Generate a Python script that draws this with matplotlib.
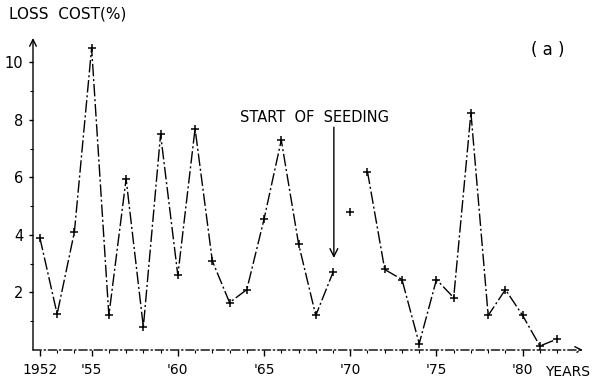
import matplotlib
matplotlib.use('Agg')
import matplotlib.pyplot as plt
import numpy as np

# loss cost (%) per year
years_a = [1952, 1953, 1954, 1955, 1956, 1957, 1958, 1959, 1960, 1961,
           1962, 1963, 1964, 1965, 1966, 1967, 1968, 1969]
loss_a = [3.9, 1.25, 4.1, 10.5, 1.2, 5.95, 0.8, 7.5, 2.6, 7.7,
          3.1, 1.65, 2.1, 4.55, 7.3, 3.7, 1.2, 2.7]
year_1970 = [1970]
loss_1970 = [4.8]
years_b = [1971, 1972, 1973, 1974, 1975, 1976, 1977, 1978, 1979, 1980, 1981, 1982]
loss_b = [6.2, 2.8, 2.45, 0.22, 2.45, 1.82, 8.25, 1.2, 2.1, 1.2, 0.14, 0.38]

xticks = [1952, 1955, 1960, 1965, 1970, 1975, 1980]
xticklabels = ['1952', "'55", "'60", "'65", "'70", "'75", "'80"]
yticks = [2, 4, 6, 8, 10]

plt.rcParams['font.family'] = 'DejaVu Sans'
plt.rcParams['font.size'] = 10

fig = plt.figure(figsize=(5.96, 3.80), dpi=100)
ax = fig.add_axes([33/596, 30/380, 550/596, 312/380])

ls = (0, (9, 2, 1.5, 2))
for xs, ys in [(years_a, loss_a), (years_b, loss_b)]:
    ax.plot(xs, ys, color='k', lw=1.0, linestyle=ls,
            marker='+', ms=6, mew=1.1, mec='k')
ax.plot(year_1970, loss_1970, ls='none', marker='+', ms=6, mew=1.1, color='k')

ax.set_xlim(1951.6, 1983.5)
ax.set_ylim(0, 10.85)

for side in ['top', 'right', 'left', 'bottom']:
    ax.spines[side].set_visible(False)

# axes with arrowheads
ax.annotate('', xy=(0, 1.0), xytext=(0, 0), xycoords='axes fraction',
            arrowprops=dict(arrowstyle='->', lw=1.0, color='k',
                            mutation_scale=12, shrinkA=0, shrinkB=0))
ax.annotate('', xy=(1.0, 0), xytext=(0, 0), xycoords='axes fraction',
            arrowprops=dict(arrowstyle='->', lw=1.0, color='k',
                            linestyle=(0, (6, 2, 1, 2)),
                            mutation_scale=12, shrinkA=0, shrinkB=0))

ax.set_xticks(xticks)
ax.set_xticklabels(xticklabels)
ax.set_xticks(np.arange(1952, 1983), minor=True)
ax.set_yticks(yticks)
ax.set_yticklabels([str(v) for v in yticks])
ax.set_yticks([1, 3, 5, 7, 9], minor=True)
ax.tick_params(axis='x', which='major', direction='out', length=4, width=1, pad=5.5, labelsize=10)
ax.tick_params(axis='x', which='minor', direction='out', length=2.5, width=0.8)
ax.tick_params(axis='y', which='major', direction='out', length=3, width=1, pad=4, labelsize=10.5)
ax.tick_params(axis='y', which='minor', direction='out', length=2.5, width=0.8)

# seeding annotation
ax.text(1963.6, 8.1, 'START  OF  SEEDING', fontsize=10.5, ha='left', va='center')
ax.annotate('', xy=(1969.05, 3.2), xytext=(1969.05, 7.75),
            arrowprops=dict(arrowstyle='->', lw=1.0, color='k',
                            mutation_scale=14, shrinkA=0, shrinkB=0))

ax.text(1981.45, 10.45, '( a )', fontsize=12, ha='center', va='center')
ax.text(1981.3, -0.07, 'YEARS', fontsize=10, ha='left', va='center',
        transform=ax.get_xaxis_transform())
fig.text(9/596, 1 - 14/380, 'LOSS  COST(%)', fontsize=11, ha='left', va='center')

fig.savefig('out.png', dpi=100)
